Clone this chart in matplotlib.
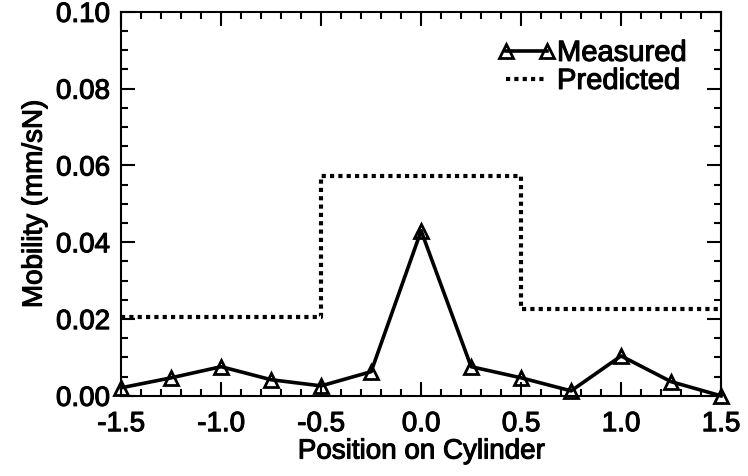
import matplotlib.pyplot as plt
import matplotlib.patheffects as pe
from matplotlib.ticker import MultipleLocator

plt.rcParams['font.family'] = ['Liberation Sans', 'DejaVu Sans']

# measured mobility along the cylinder
pos = [-1.5, -1.25, -1.0, -0.75, -0.5, -0.25, 0.0, 0.25, 0.5, 0.75, 1.0, 1.25, 1.5]
measured = [0.0021, 0.0047, 0.0076, 0.0042, 0.0026, 0.0063, 0.0430,
            0.0076, 0.0047, 0.0013, 0.0104, 0.0037, 0.0]

# predicted step profile
pred_x = [-1.5, -0.5, -0.5, 0.5, 0.5, 1.5]
pred_y = [0.0206, 0.0206, 0.0572, 0.0572, 0.0227, 0.0227]

fig = plt.figure(figsize=(7.48, 4.77), dpi=100)
ax = fig.add_axes([0.162, 0.168, 0.802, 0.805])

ax.plot(pos, measured, color='black', lw=2.6, marker='^', ms=10,
        mfc='none', mec='black', mew=2.0, label='Measured', clip_on=False)
ax.plot(pred_x, pred_y, color='black', lw=3.0, ls=(0, (1, 1)), label='Predicted')

ax.set_xlim(-1.5, 1.5)
ax.set_ylim(0.0, 0.10)
ax.xaxis.set_major_locator(MultipleLocator(0.5))
ax.xaxis.set_minor_locator(MultipleLocator(0.1))
ax.yaxis.set_major_locator(MultipleLocator(0.02))
ax.yaxis.set_minor_locator(MultipleLocator(0.005))
ax.xaxis.set_major_formatter(plt.FuncFormatter(lambda v, p: f"{v:.1f}"))
ax.yaxis.set_major_formatter(plt.FuncFormatter(lambda v, p: f"{v:.2f}"))

ax.tick_params(which='both', direction='in', top=True, right=True,
               labelsize=20, width=1.5)
ax.tick_params(axis='x', which='major', pad=11)
ax.tick_params(axis='y', which='major', pad=8)
ax.tick_params(which='major', length=10)
ax.tick_params(which='minor', length=5)
for s in ax.spines.values():
    s.set_linewidth(1.5)

ax.set_xlabel('Position on Cylinder', fontsize=20, labelpad=1)
ax.set_ylabel('Mobility (mm/sN)', fontsize=20, labelpad=6)

leg = ax.legend(loc='upper right', frameon=False, fontsize=21, numpoints=2,
                handlelength=2.0, handletextpad=0.05, labelspacing=0.0,
                borderaxespad=0.0, bbox_to_anchor=(0.962, 0.96))

# slightly heavier text, like the scanned original
heavy = [pe.withStroke(linewidth=0.8, foreground='black')]
texts = ax.get_xticklabels() + ax.get_yticklabels() + leg.get_texts()
texts += [ax.xaxis.label, ax.yaxis.label]
for t in texts:
    t.set_path_effects(heavy)

fig.savefig('out.png', dpi=100)
